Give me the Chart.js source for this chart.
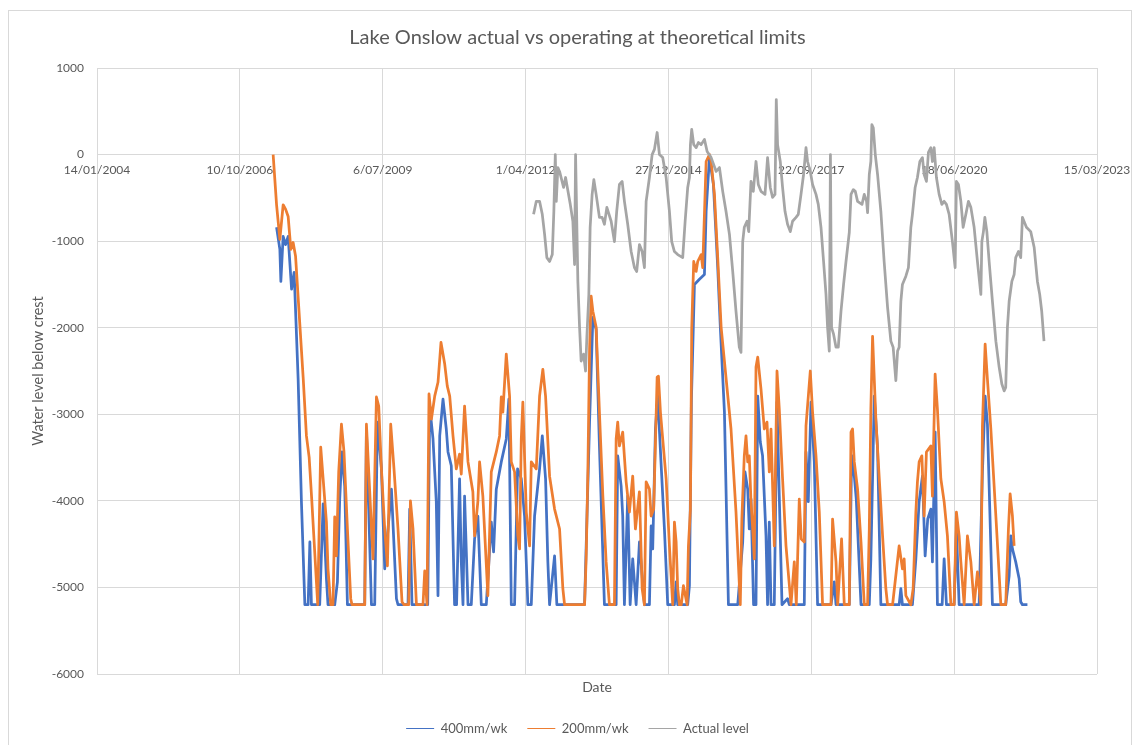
<!DOCTYPE html>
<html>
<head>
<meta charset="utf-8">
<title>Lake Onslow actual vs operating at theoretical limits</title>
<script src="https://cdn.jsdelivr.net/npm/chart.js@4.4.1/dist/chart.umd.min.js"></script>
<style>
  html, body { margin: 0; padding: 0; background: #fff; overflow: hidden; }
  #wrap { position: relative; width: 1140px; height: 745px; overflow: hidden; }
  #frame { position: absolute; left: 8px; top: 10px; width: 1124px; height: 745px; border: 1px solid #d9d9d9; box-sizing: border-box; }
  #chart { position: absolute; left: 0; top: 0; }
</style>
</head>
<body>
<div id="wrap">
  <div id="frame"></div>
  <!-- canvas runs a little past the window so the title/legend centre matches the original frame -->
  <canvas id="chart" width="1155" height="745"></canvas>
</div>
<script>
// dates are Excel serial numbers (days since 30/12/1899), levels in mm below crest
const xTicks = [38000, 39000, 40000, 41000, 42000, 43000, 44000, 45000];

const dates400 = [39257,39280,39287,39303,39320,39338,39362,39380,39408,39431,39455,39478,39490,39501,39559,39583,39606,39617,39664,39683,39699,39715,39734,39753,39874,39886,39921,39944,39963,39991,40014,40033,40061,40096,40107,40177,40189,40205,40315,40329,40352,40375,40387,40399,40422,40445,40457,40480,40503,40517,40538,40550,40562,40573,40597,40620,40643,40666,40690,40725,40760,40776,40795,40830,40865,40883,40900,40923,40944,40970,40993,41016,41040,41063,41098,41117,41140,41156,41168,41203,41219,41413,41448,41471,41494,41517,41552,41634,41645,41669,41680,41692,41715,41732,41750,41774,41797,41832,41867,41879,41890,41909,41925,41948,41972,41995,42042,42054,42065,42135,42147,42161,42182,42217,42252,42264,42287,42315,42345,42364,42392,42420,42485,42520,42536,42555,42566,42578,42596,42613,42625,42643,42659,42683,42694,42706,42718,42741,42760,42776,42795,42834,42846,42951,42963,42979,42998,43021,43044,43138,43161,43173,43266,43280,43289,43315,43348,43406,43417,43441,43464,43487,43615,43627,43638,43708,43732,43755,43778,43797,43815,43837,43848,43867,43883,43916,43930,43946,44000,44016,44035,44175,44198,44217,44233,44268,44361,44385,44397,44408,44431,44455,44466,44478,44513];
const level400 = [-840,-1095,-1465,-945,-1040,-945,-1555,-1360,-2595,-4010,-5200,-5200,-4475,-5200,-5200,-4035,-4900,-5200,-5200,-4935,-3980,-3435,-3830,-5200,-5200,-3170,-5200,-5200,-3090,-3630,-4785,-4405,-3865,-5130,-5200,-5200,-4095,-5200,-5200,-2905,-3285,-4010,-5095,-3250,-2825,-3170,-3435,-3595,-5200,-5200,-3745,-4705,-5200,-3945,-5200,-5200,-4440,-4175,-5200,-5200,-4245,-4590,-3865,-3550,-3285,-2825,-5200,-5200,-3630,-3745,-4175,-5200,-5200,-4175,-3630,-3250,-3745,-4705,-5200,-4635,-5200,-5200,-3090,-1880,-2020,-3365,-5200,-5200,-3480,-3830,-4175,-5200,-3945,-5200,-4670,-5200,-4475,-5200,-5200,-4290,-4555,-3170,-2790,-3550,-4325,-5200,-5200,-4935,-5200,-5200,-4980,-2825,-1500,-1440,-1385,-655,-35,-345,-1305,-2020,-2975,-5200,-5200,-4475,-3665,-3865,-4325,-3980,-5200,-5200,-2790,-3320,-3480,-4405,-5200,-4245,-5200,-5200,-2860,-3945,-5200,-5130,-5200,-5200,-3435,-4010,-2860,-3550,-5200,-5200,-4935,-5200,-5200,-3745,-3480,-3980,-5200,-5200,-4670,-2790,-3400,-5200,-5200,-5015,-5200,-5200,-4670,-4010,-3715,-4635,-4210,-4095,-4705,-3205,-5200,-5200,-4670,-5200,-5200,-4325,-5200,-5200,-3665,-2790,-3115,-5200,-5200,-4865,-4405,-4555,-4705,-4900,-5165,-5200,-5200];

const dates200 = [39233,39257,39280,39303,39320,39338,39357,39373,39390,39443,39466,39485,39503,39545,39566,39583,39606,39617,39636,39652,39664,39676,39692,39711,39729,39753,39776,39785,39874,39886,39916,39932,39956,39972,39991,40014,40033,40056,40079,40107,40135,40149,40182,40194,40212,40236,40282,40294,40310,40324,40341,40364,40387,40408,40434,40452,40469,40492,40515,40538,40550,40573,40597,40631,40643,40666,40678,40701,40736,40760,40795,40818,40830,40841,40865,40888,40900,40923,40946,40958,40970,40981,41005,41028,41040,41075,41098,41121,41140,41168,41203,41238,41261,41273,41413,41424,41436,41448,41459,41471,41494,41517,41541,41564,41587,41622,41634,41645,41657,41680,41704,41727,41750,41769,41797,41816,41832,41844,41867,41879,41897,41921,41930,41944,41960,41984,42007,42030,42042,42054,42065,42077,42090,42105,42131,42140,42154,42163,42170,42177,42194,42205,42229,42240,42264,42287,42299,42322,42345,42369,42438,42473,42503,42514,42531,42543,42555,42566,42578,42590,42601,42613,42625,42648,42671,42690,42706,42718,42741,42760,42776,42799,42823,42858,42881,42895,42916,42930,42951,42963,42993,43009,43033,43056,43079,43138,43149,43173,43185,43212,43231,43266,43278,43289,43301,43324,43348,43371,43394,43406,43417,43429,43452,43476,43499,43522,43534,43569,43615,43638,43650,43662,43697,43713,43732,43743,43755,43774,43790,43806,43837,43848,43867,43883,43907,43930,43953,43977,44000,44016,44035,44047,44070,44093,44117,44140,44163,44187,44198,44217,44233,44257,44292,44327,44361,44380,44392,44408,44420];
const level200 = [0,-580,-980,-580,-630,-715,-1095,-1015,-1175,-2570,-3250,-3495,-3980,-5200,-3380,-3745,-4245,-4785,-5200,-5200,-4185,-4635,-3665,-3115,-3435,-4325,-5130,-5200,-5200,-3115,-4130,-4670,-2800,-2905,-3630,-4325,-4750,-3115,-3630,-4325,-5165,-5200,-5200,-4000,-4325,-5200,-5200,-4810,-5200,-2765,-3055,-2790,-2630,-2170,-2420,-2675,-2790,-3250,-3630,-3460,-3690,-2905,-3550,-3895,-4405,-4010,-3550,-3945,-5095,-3665,-3435,-3250,-2800,-2975,-2305,-2790,-3550,-3665,-4405,-4555,-3285,-2860,-4130,-4520,-3550,-3630,-2790,-2480,-2790,-3715,-4095,-4325,-5015,-5200,-5200,-4670,-3665,-2250,-1635,-1810,-1995,-2975,-3945,-4705,-5200,-5200,-3285,-3090,-3365,-3205,-3780,-4130,-3715,-4325,-3895,-5015,-5200,-3780,-3865,-4175,-4095,-2570,-2560,-2975,-3285,-3745,-4520,-5200,-4245,-4475,-5015,-5200,-5200,-4980,-5200,-4520,-4095,-2020,-1615,-1235,-1350,-1235,-1155,-1305,-80,0,-80,-460,-1190,-1995,-3170,-4130,-5200,-4210,-3480,-3250,-3550,-3480,-4010,-4325,-4670,-2455,-2340,-2710,-3170,-3090,-3665,-3170,-4520,-2500,-2940,-3745,-4520,-5200,-4705,-5200,-3980,-4440,-4475,-3135,-2500,-2975,-3480,-4130,-5200,-5200,-4210,-4705,-5200,-4440,-5200,-5200,-3205,-3170,-3550,-3865,-4475,-5200,-5200,-4325,-2940,-2100,-3055,-3745,-4405,-5015,-5200,-5200,-4520,-4785,-4670,-5095,-5200,-5015,-4130,-3780,-3550,-3480,-4175,-3435,-3365,-3945,-2535,-2940,-3745,-4010,-4405,-5200,-5200,-4130,-4405,-4705,-5200,-4405,-4705,-5200,-4820,-5200,-3135,-2190,-2595,-3170,-4175,-5200,-5200,-4325,-3920,-4175,-4520];

const datesActual = [41056,41075,41098,41117,41133,41149,41168,41187,41198,41208,41215,41226,41238,41266,41280,41313,41331,41343,41350,41366,41378,41389,41406,41420,41429,41443,41452,41466,41478,41494,41517,41536,41552,41569,41599,41622,41638,41657,41676,41692,41715,41739,41762,41778,41797,41816,41832,41844,41867,41886,41902,41921,41937,41960,41984,42007,42023,42042,42065,42100,42117,42135,42147,42154,42163,42177,42194,42210,42229,42252,42271,42299,42334,42357,42380,42403,42427,42450,42473,42496,42508,42520,42531,42550,42562,42578,42594,42613,42629,42648,42676,42694,42713,42729,42746,42755,42764,42783,42799,42816,42834,42853,42869,42893,42909,42928,42946,42963,42974,42993,43009,43033,43049,43068,43086,43103,43114,43126,43134,43142,43156,43173,43189,43208,43226,43243,43266,43278,43294,43308,43324,43355,43371,43387,43394,43406,43417,43424,43434,43448,43464,43487,43510,43534,43557,43573,43592,43604,43615,43627,43638,43662,43680,43697,43708,43727,43743,43760,43778,43790,43806,43820,43837,43848,43860,43876,43895,43914,43930,43946,43965,43988,44007,44016,44030,44047,44063,44082,44100,44117,44140,44163,44187,44194,44205,44215,44229,44245,44268,44292,44315,44334,44350,44361,44373,44385,44404,44420,44431,44450,44466,44478,44489,44506,44536,44560,44583,44599,44613,44629];
const levelActual = [-690,-540,-540,-690,-920,-1190,-1235,-1155,-655,0,-540,-150,-195,-380,-265,-575,-770,-1270,0,-1465,-1995,-2385,-2305,-2500,-2110,-1615,-840,-460,-290,-460,-725,-725,-805,-610,-770,-1005,-655,-345,-310,-540,-805,-1120,-1305,-1350,-1040,-1120,-1305,-540,-265,0,60,255,0,-35,-265,-655,-1005,-1120,-1155,-1190,-770,-380,-265,115,290,115,80,140,115,175,35,-35,-195,-150,-425,-655,-920,-1350,-1810,-2225,-2285,-1005,-840,-770,-890,-310,-425,-80,-345,-425,-460,-35,-380,-495,-460,635,115,-80,-380,-655,-805,-890,-770,-725,-690,-460,-230,80,-80,-195,-345,-460,-575,-840,-1235,-1615,-1995,-2270,0,-2000,-2075,-2225,-2225,-1810,-1500,-1235,-900,-460,-405,-425,-540,-575,-460,-540,-670,-230,-80,345,310,0,-230,-655,-1235,-1765,-2155,-2225,-2610,-2270,-2225,-1695,-1500,-1405,-1305,-840,-690,-380,-265,-80,-35,-230,-310,25,80,-80,80,-265,-460,-575,-540,-575,-690,-1005,-1305,-310,-345,-540,-840,-690,-540,-610,-840,-1235,-1615,-1005,-890,-725,-890,-1235,-1695,-2155,-2455,-2650,-2730,-2690,-1995,-1695,-1465,-1385,-1190,-1120,-1190,-725,-770,-840,-890,-1070,-1465,-1615,-1810,-2155];

const textColor = '#595959';
const gridColor = '#d9d9d9';
const fontFamily = 'Lato, "Open Sans", sans-serif';

function fmtDate(serial) {
  const d = new Date(Date.UTC(1899, 11, 30) + serial * 86400000);
  return d.getUTCDate() + '/' + String(d.getUTCMonth() + 1).padStart(2, '0') + '/' + d.getUTCFullYear();
}

const toPoints = (xs, ys) => xs.map((x, i) => ({ x: x, y: ys[i] }));

const ctx = document.getElementById('chart').getContext('2d');
new Chart(ctx, {
  type: 'line',
  data: {
    datasets: [
      { label: '400mm/wk', data: toPoints(dates400, level400), borderColor: '#4472C4', backgroundColor: '#4472C4', order: 3 },
      { label: '200mm/wk', data: toPoints(dates200, level200), borderColor: '#ED7D31', backgroundColor: '#ED7D31', order: 2 },
      { label: 'Actual level', data: toPoints(datesActual, levelActual), borderColor: '#A5A5A5', backgroundColor: '#A5A5A5', order: 1 },
    ],
  },
  options: {
    responsive: false,
    animation: false,
    events: [],
    elements: {
      line: { borderWidth: 2.75, tension: 0, fill: false, borderJoinStyle: 'round' },
      point: { radius: 0 },
    },
    layout: { padding: 0 },
    scales: {
      x: {
        type: 'linear',
        position: { y: 0 },
        min: xTicks[0],
        max: xTicks[xTicks.length - 1],
        afterBuildTicks: (s) => { s.ticks = xTicks.map(v => ({ value: v })); },
        ticks: {
          callback: (v) => fmtDate(v),
          color: textColor,
          font: { family: fontFamily, size: 12 },
          padding: 8,
          maxRotation: 0,
          autoSkip: false,
        },
        grid: { color: gridColor, drawTicks: false },
        border: { color: gridColor },
      },
      x2: {
        type: 'linear',
        position: 'bottom',
        min: xTicks[0],
        max: xTicks[xTicks.length - 1],
        ticks: { display: false },
        grid: { display: false },
        border: { display: false },
        title: { display: true, text: 'Date', color: textColor, font: { family: fontFamily, size: 14 }, padding: { top: 0, bottom: 6 } },
        afterFit: (s) => { s.height = 28; },
      },
      y: {
        min: -6000,
        max: 1000,
        ticks: { stepSize: 1000, callback: (v) => String(v), color: textColor, font: { family: fontFamily, size: 12 }, padding: 13 },
        grid: { color: gridColor, drawTicks: false },
        border: { display: false },
        title: { display: true, text: 'Water level below crest', color: textColor, font: { family: fontFamily, size: 14.5 }, padding: { top: 29.3, bottom: 0 } },
        afterFit: (s) => { s.width = 97; },
      },
      // empty right-hand spacer so the plot ends where the original does
      y2: {
        position: 'right',
        min: -6000,
        max: 1000,
        ticks: { display: false },
        grid: { display: false },
        border: { display: false },
        afterFit: (s) => { s.width = 58; },
      },
    },
    plugins: {
      title: {
        display: true,
        text: 'Lake Onslow actual vs operating at theoretical limits',
        color: textColor,
        font: { family: fontFamily, size: 20, weight: 'normal' },
        padding: { top: 26, bottom: 18 },
      },
      legend: {
        position: 'bottom',
        labels: {
          usePointStyle: true,
          pointStyle: 'line',
          pointStyleWidth: 28,
          color: textColor,
          font: { family: fontFamily, size: 13 },
          padding: 20,
          sort: (a, b) => a.datasetIndex - b.datasetIndex,
        },
      },
      tooltip: { enabled: false },
    },
  },
});
</script>
</body>
</html>
